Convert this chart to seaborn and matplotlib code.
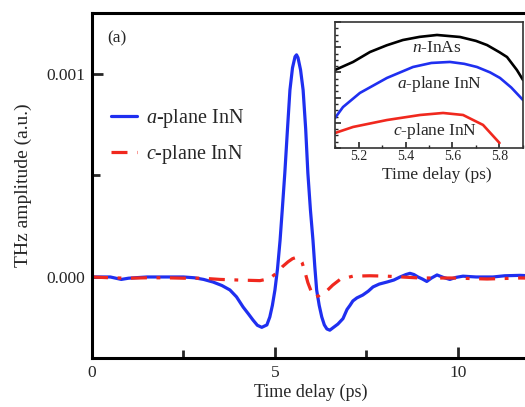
import numpy as np
import pandas as pd
import matplotlib
matplotlib.use("Agg")
import matplotlib.pyplot as plt
from matplotlib.ticker import FixedLocator, MultipleLocator, NullFormatter
import seaborn as sns

# ---------------- data ----------------
# main panel, values in units of 1e-3 (a.u.)
a_time = [0.0, 0.5, 0.8, 1.0, 1.5, 2.0, 2.5, 2.8, 3.05, 3.31, 3.55, 3.77, 3.95, 4.13, 4.28, 4.40, 4.52,
          4.64, 4.78, 4.86, 4.93, 5.0, 5.07, 5.14, 5.2, 5.27, 5.34, 5.41, 5.48, 5.55, 5.59, 5.63,
          5.70, 5.77, 5.84, 5.90, 5.97, 6.04, 6.09, 6.14, 6.21, 6.28, 6.35, 6.42, 6.50, 6.58, 6.72,
          6.86, 6.97, 7.05, 7.13, 7.24, 7.40, 7.55, 7.68, 7.85, 8.06, 8.25, 8.42, 8.58, 8.69, 8.80,
          8.91, 9.03, 9.15, 9.28, 9.43, 9.60, 9.78, 9.95, 10.14, 10.5, 10.96, 11.28, 11.7, 12.2]
a_amp = [0.0, 0.0, -0.012, -0.006, 0.0, 0.0, 0.0, -0.004, -0.012, -0.025, -0.042, -0.064, -0.098,
         -0.148, -0.183, -0.212, -0.238, -0.248, -0.236, -0.197, -0.140, -0.064, 0.04, 0.18, 0.33,
         0.512, 0.72, 0.921, 1.03, 1.085, 1.094, 1.08, 1.02, 0.921, 0.73, 0.512, 0.33, 0.18,
         0.05, -0.064, -0.14, -0.197, -0.236, -0.256, -0.262, -0.251, -0.232, -0.205, -0.160,
         -0.140, -0.118, -0.103, -0.089, -0.070, -0.049, -0.035, -0.025, -0.015, 0.0, 0.012, 0.018,
         0.012, 0.0, -0.010, -0.022, -0.005, 0.010, -0.002, -0.012, -0.002, 0.004, 0.0, 0.0,
         0.006, 0.008, 0.004]

c_time = [0.0, 0.5, 1.0, 1.5, 2.0, 2.5, 3.0, 3.5, 4.0, 4.59, 4.85, 5.05, 5.2, 5.36, 5.48, 5.59, 5.67,
          5.74, 5.82, 5.90, 6.0, 6.09, 6.2, 6.28, 6.42, 6.58, 6.78, 7.13, 7.6, 8.06, 8.96, 9.86,
          10.8, 11.7, 12.2]
c_amp = [0.0, -0.004, -0.006, -0.004, -0.004, -0.006, -0.006, -0.012, -0.015, -0.018, -0.008,
         0.02, 0.05, 0.075, 0.09, 0.097, 0.092, 0.072, 0.025, -0.028, -0.075, -0.100, -0.092,
         -0.080, -0.068, -0.040, -0.012, 0.004, 0.006, 0.004, -0.005, -0.005, -0.010, -0.005,
         -0.006]

# inset (normalised amplitude)
inas_time = [5.10, 5.177, 5.249, 5.32, 5.389, 5.46, 5.534, 5.632, 5.70, 5.747, 5.80, 5.832, 5.874, 5.90]
inas_amp = [0.619, 0.683, 0.762, 0.815, 0.857, 0.882, 0.897, 0.881, 0.850, 0.817, 0.76, 0.722, 0.619, 0.54]
ainn_time = [5.10, 5.134, 5.206, 5.321, 5.432, 5.51, 5.589, 5.65, 5.704, 5.76, 5.802, 5.85, 5.90]
ainn_amp = [0.238, 0.325, 0.437, 0.556, 0.643, 0.675, 0.683, 0.668, 0.643, 0.600, 0.556, 0.48, 0.381]
cinn_time = [5.10, 5.177, 5.321, 5.462, 5.56, 5.645, 5.73, 5.80]
cinn_amp = [0.119, 0.167, 0.222, 0.262, 0.278, 0.262, 0.183, 0.04]

labels_main = ["$a$-plane InN", "$c$-plane InN"]
inset_labels = ["$n$-InAs", "$a$-plane InN", "$c$-plane InN"]
xticks_main = [0, 5, 10]
yticks_main = [0.0, 1.0]
ytick_labels = ["0.000", "0.001"]
inset_xticks = [5.2, 5.4, 5.6, 5.8]

# ---------------- style ----------------
sns.set_theme(style="white")
plt.rcParams["font.family"] = ["Liberation Serif", "DejaVu Serif"]
plt.rcParams["mathtext.fontset"] = "custom"
plt.rcParams["mathtext.it"] = "Liberation Serif:italic"
plt.rcParams["mathtext.rm"] = "Liberation Serif"

BLUE = "#1f2ff0"
RED = "#f0281e"

fig = plt.figure(figsize=(5.25, 4.07), dpi=100)
ax = fig.add_axes([92 / 525, 1 - 358 / 407, (538 - 92) / 525, (358 - 13) / 407])

df_a = pd.DataFrame({"t": a_time, "y": np.array(a_amp) * 1e-3})
df_c = pd.DataFrame({"t": c_time, "y": np.array(c_amp) * 1e-3})
sns.lineplot(data=df_a, x="t", y="y", ax=ax, color=BLUE, lw=2.3, label=labels_main[0])
sns.lineplot(data=df_c, x="t", y="y", ax=ax, color=RED, lw=2.3,
             linestyle=(0, (5, 3, 1.2, 3)), label=labels_main[1])

ax.set_xlim(0, 12.19)
ax.set_ylim(-0.000399, 0.0013)
ax.xaxis.set_major_locator(FixedLocator(xticks_main))
ax.xaxis.set_minor_locator(FixedLocator([2.5, 7.5]))
ax.yaxis.set_major_locator(FixedLocator([v * 1e-3 for v in yticks_main]))
ax.yaxis.set_minor_locator(FixedLocator([0.0005]))
ax.set_yticklabels(ytick_labels)
ax.set_xticklabels([str(t) for t in xticks_main])
ax.tick_params(which="major", direction="in", length=8, width=2.0, labelsize=12.5, pad=5,
               bottom=True, left=True, top=False, right=False)
ax.tick_params(which="minor", direction="in", length=6, width=2.0,
               bottom=True, left=True, top=False, right=False)
for s in ax.spines.values():
    s.set_linewidth(2.2)
    s.set_color("black")
ax.set_xlabel("Time delay (ps)", fontsize=13, labelpad=3)
ax.set_ylabel("THz amplitude (a.u.)", fontsize=14, labelpad=10)
ax.xaxis.set_label_coords((311 - 92) / (538 - 92), -0.075)
ax.text(0.035, 0.915, "(a)", transform=ax.transAxes, fontsize=12.5)

leg = ax.legend(loc="upper left", bbox_to_anchor=(0.025, 0.75), frameon=False, fontsize=14.5,
                handlelength=1.3, labelspacing=0.65, handletextpad=0.45, borderaxespad=0)

# ---------------- inset ----------------
ins = fig.add_axes([335 / 525, 1 - 148 / 407, (523 - 335) / 525, (148 - 22) / 407])
sns.lineplot(x=inas_time, y=inas_amp, ax=ins, color="black", lw=1.9)
sns.lineplot(x=ainn_time, y=ainn_amp, ax=ins, color=BLUE, lw=1.9)
sns.lineplot(x=cinn_time, y=cinn_amp, ax=ins, color=RED, lw=1.9)
ins.set_xlim(5.1, 5.9)
ins.set_ylim(0, 1)
ins.xaxis.set_major_locator(FixedLocator(inset_xticks))
ins.xaxis.set_minor_locator(MultipleLocator(0.1))
ins.yaxis.set_major_locator(MultipleLocator(0.2))
ins.yaxis.set_minor_locator(MultipleLocator(0.05))
ins.yaxis.set_major_formatter(NullFormatter())
ins.tick_params(which="major", direction="in", length=4, width=1.2, labelsize=10, pad=1.5,
                bottom=True, left=True, top=False, right=False)
ins.tick_params(which="minor", direction="in", length=2.5, width=1.0,
                bottom=True, left=True, top=False, right=False)
for s in ins.spines.values():
    s.set_linewidth(1.2)
    s.set_color("#333333")
ins.set_xlabel("Time delay (ps)", fontsize=12.5)
ins.xaxis.set_label_coords((437 - 335) / (523 - 335), -0.15)
ins.set_ylabel("")
ins.text(5.535, 0.86, inset_labels[0], fontsize=12.5, ha="center", va="top")
ins.text(5.545, 0.59, inset_labels[1], fontsize=12.5, ha="center", va="top")
ins.text(5.525, 0.215, inset_labels[2], fontsize=12.5, ha="center", va="top")

fig.savefig("out.png", dpi=100)
